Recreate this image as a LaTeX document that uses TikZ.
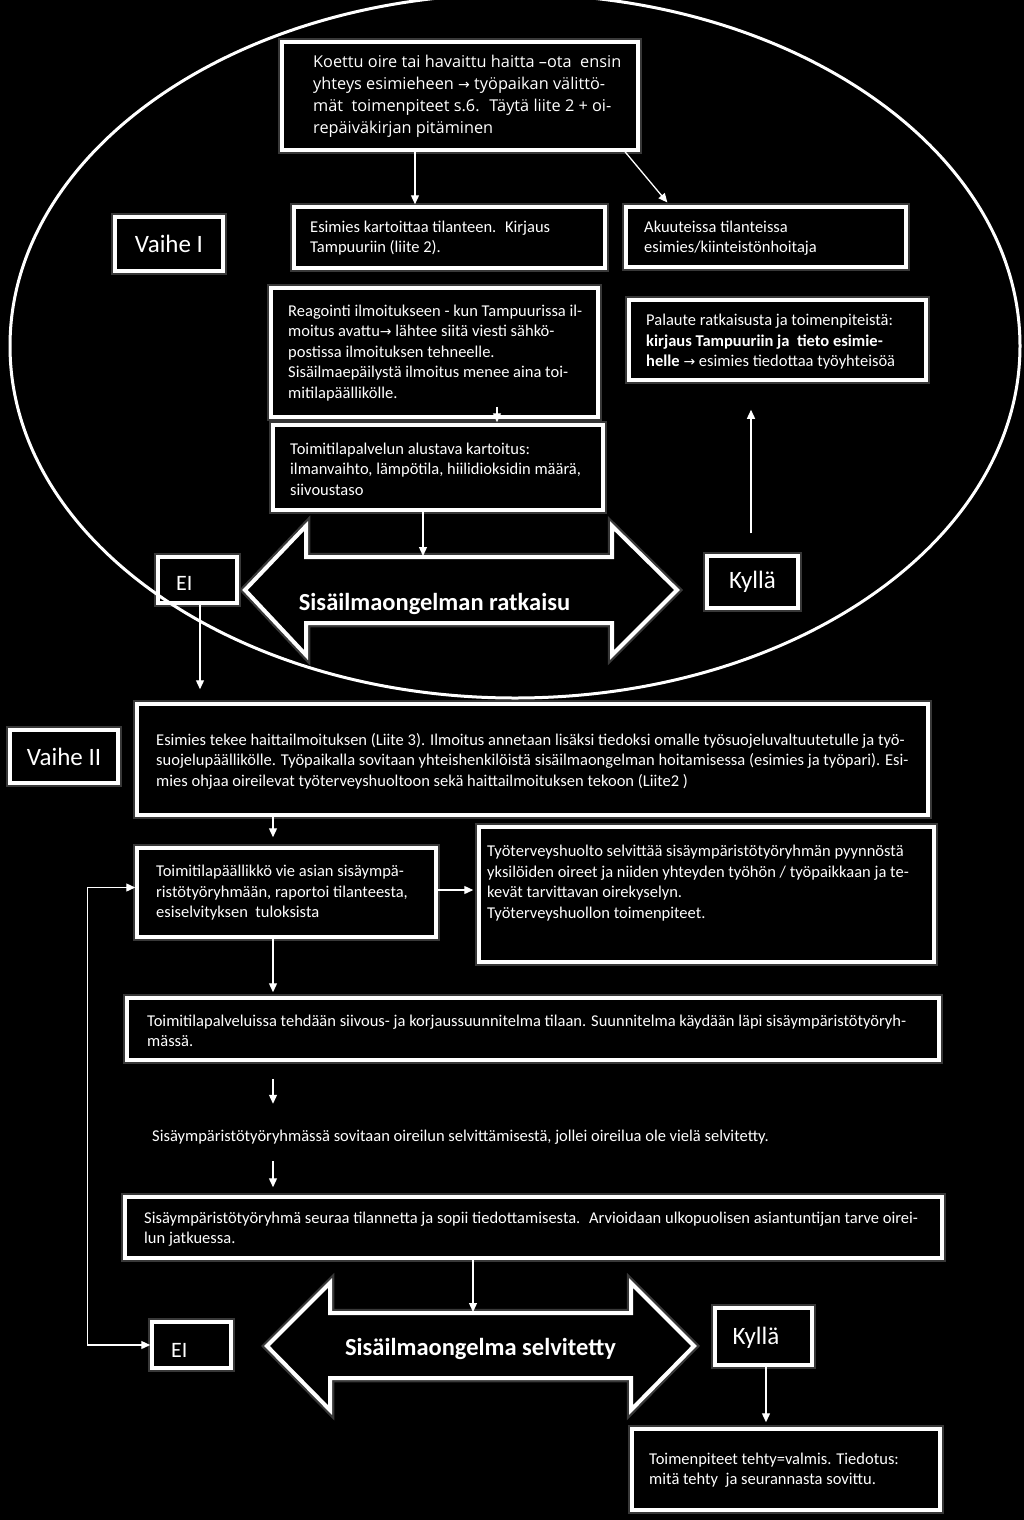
\documentclass[tikz,border=0pt]{standalone}
\usepackage{fontspec}
\setmainfont{Carlito}
\newfontfamily\osans{Open Sans}
\newfontfamily\sym{DejaVu Sans}
\usetikzlibrary{arrows.meta,calc}
\newcommand\arw{{\sym\fontsize{14}{20}\selectfont →}}
\begin{document}
\begin{tikzpicture}[x=1pt,y=-1pt,
  box/.style={draw=white, line width=3.5pt, fill=black, inner sep=0pt,
    preaction={draw=white!22!black, line width=8pt}},
  txt/.style={text=white, inner sep=0pt, align=left, font=\fontsize{16.5}{20.5}\selectfont},
  otxt/.style={text=white, inner sep=0pt, align=left, font=\osans\fontsize{16.3}{22}\selectfont},
  lbl/.style={text=white, font=\fontsize{25}{29}\selectfont},
  bigtxt/.style={text=white, inner sep=0pt, font=\bfseries\fontsize{24.5}{28}\selectfont},
  arr/.style={draw=white, line width=1.3pt, shorten >=1pt, -{Triangle[length=9pt,width=8pt]}},
  arrboth/.style={draw=white, line width=1.3pt, {Triangle[length=9pt,width=8pt]}-{Triangle[length=9pt,width=8pt]}},
  bigarr/.style={draw=white, line width=4pt, line join=miter, fill=black,
    preaction={draw=white!22!black, line width=8.5pt}}
]
\fill[black] (0,0) rectangle (1024,1520);
\useasboundingbox (0,0) rectangle (1024,1520);

% ---------- Vaihe I ----------
\node[box, minimum width=356pt, minimum height=108pt] (T) at (460,96) {};
\node[otxt, anchor=west] (Tt) at (313,96) {Koettu oire tai havaittu haitta –ota~ ensin\\yhteys esimieheen \arw{} työpaikan välittö-\\mät~ toimenpiteet s.6.~ Täytä liite 2 + oi-\\repäiväkirjan pitäminen};

\node[box, lbl, minimum width=108pt, minimum height=54pt] (VI) at (169,244) {Vaihe I};

\node[box, minimum width=311pt, minimum height=61pt] (E1) at (449.5,237.5) {};
\node[txt, anchor=west] (E1t) at (310,238) {Esimies kartoittaa tilanteen.~ Kirjaus\\Tampuuriin (liite 2).};

\node[box, minimum width=280pt, minimum height=60pt] (A) at (766,237) {};
\node[txt, anchor=west] (At) at (644,238) {Akuuteissa tilanteissa\\esimies/kiinteistönhoitaja};

\node[box, minimum width=327pt, minimum height=129pt] (R) at (434.5,352.5) {};
\node[txt, anchor=west] (Rt) at (288,353) {Reagointi ilmoitukseen - kun Tampuurissa il-\\moitus avattu\arw{} lähtee siitä viesti sähkö-\\postissa ilmoituksen tehneelle.\\Sisäilmaepäilystä ilmoitus menee aina toi-\\mitilapäällikölle.};

\node[box, minimum width=330pt, minimum height=85pt] (K) at (438,467.5) {};
\node[txt, anchor=west] (Kt) at (290,469) {Toimitilapalvelun alustava kartoitus:\\ilmanvaihto, lämpötila, hiilidioksidin määrä,\\siivoustaso};

\node[box, minimum width=297pt, minimum height=80pt] (P) at (777.5,340) {};
\node[txt, anchor=west] (Pt) at (646,342) {Palaute ratkaisusta ja toimenpiteistä:\\\textbf{kirjaus Tampuuriin ja~ tieto esimie-}\\\textbf{helle} \arw{} esimies tiedottaa työyhteisöä};

% big arrow 1
\draw[bigarr] (245,590) -- (306,526) -- (306,557) -- (612,557) -- (612,526) -- (677,590)
  -- (612,655) -- (612,623) -- (306,623) -- (306,655) -- cycle;
\coordinate (ba1top) at (423,557);
\node[bigtxt, anchor=base] (BA1) at (434.5,610) {Sisäilmaongelman ratkaisu};

\node[box, minimum width=79pt, minimum height=46pt] (Ei1) at (197.5,580) {};
\node[lbl, inner sep=0pt, anchor=west, font=\fontsize{22}{26}\selectfont] (Ei1t) at (176,583) {EI};

\node[box, lbl, minimum width=91pt, minimum height=52pt] (Ky1) at (752.5,582) {Kyllä};

% ---------- Vaihe II ----------
\node[box, lbl, minimum width=108pt, minimum height=53pt] (VII) at (64,756.5) {Vaihe II};

\node[box, minimum width=791pt, minimum height=111pt] (M) at (532.5,759.5) {};
\node[txt, anchor=west] (Mt) at (156,761) {Esimies tekee haittailmoituksen (Liite 3). Ilmoitus annetaan lisäksi tiedoksi omalle työsuojeluvaltuutetulle ja työ-\\suojelupäällikölle. Työpaikalla sovitaan yhteishenkilöistä sisäilmaongelman hoitamisessa (esimies ja työpari). Esi-\\mies ohjaa oireilevat työterveyshuoltoon sekä haittailmoituksen tekoon (Liite2 )};

\node[box, minimum width=299pt, minimum height=89pt] (TP) at (286.5,892.5) {};
\node[txt, anchor=west] (TPt) at (156,893) {Toimitilapäällikkö vie asian sisäympä-\\ristötyöryhmään, raportoi tilanteesta,\\esiselvityksen~ tuloksista};

\node[box, minimum width=455pt, minimum height=135pt] (TH) at (706.5,894.5) {};
\node[txt, anchor=west] (THt) at (487,883) {Työterveyshuolto selvittää sisäympäristötyöryhmän pyynnöstä\\yksilöiden oireet ja niiden yhteyden työhön / työpaikkaan ja te-\\kevät tarvittavan oirekyselyn.\\Työterveyshuollon toimenpiteet.};

\node[box, minimum width=812pt, minimum height=62pt] (S) at (533,1029) {};
\node[txt, anchor=west] (St) at (147,1031) {Toimitilapalveluissa tehdään siivous- ja korjaussuunnitelma tilaan. Suunnitelma käydään läpi sisäympäristötyöryh-\\mässä.};

\node[txt, anchor=west] (FT) at (152,1137) {Sisäympäristötyöryhmässä sovitaan oireilun selvittämisestä, jollei oireilua ole vielä selvitetty.};

\node[box, minimum width=817pt, minimum height=61pt] (F) at (533.5,1227.5) {};
\node[txt, anchor=west] (Ft) at (144,1229) {Sisäympäristötyöryhmä seuraa tilannetta ja sopii tiedottamisesta.~ Arvioidaan ulkopuolisen asiantuntijan tarve oirei-\\lun jatkuessa.};

% big arrow 2
\draw[bigarr] (267,1346) -- (330,1283) -- (330,1313) -- (631,1313) -- (631,1283) -- (694,1346)
  -- (631,1410) -- (631,1378) -- (330,1378) -- (330,1410) -- cycle;
\coordinate (ba2top) at (473,1313);
\node[bigtxt, anchor=base] (BA2) at (480.5,1355) {Sisäilmaongelma selvitetty};

\node[box, minimum width=79pt, minimum height=46pt] (Ei2) at (191.5,1345) {};
\node[lbl, inner sep=0pt, anchor=west, font=\fontsize{22}{26}\selectfont] (Ei2t) at (171,1350) {EI};

\node[box, minimum width=97pt, minimum height=57pt] (Ky2) at (763.5,1336.5) {};
\node[lbl, inner sep=0pt] (Ky2t) at (756,1338) {Kyllä};

\node[box, minimum width=308pt, minimum height=81pt] (V) at (786,1469.5) {};
\node[txt, anchor=west] (Vt) at (649,1470) {Toimenpiteet tehty=valmis. Tiedotus:\\mitä tehty~ ja seurannasta sovittu.};

% ---------- ellipse ----------
\draw[white, line width=3pt] (515,346) ellipse [x radius=505pt, y radius=352pt];

% ---------- connectors ----------
\draw[arr] ([xshift=-45pt]T.south) -- ([xshift=-34.5pt]E1.north);
\draw[arr] ([xshift=165pt]T.south) -- ([xshift=-98pt,yshift=2pt]A.north);
\draw[arr] ([xshift=62.5pt,yshift=12pt]R.south) -- ([xshift=59pt]K.north);
\draw[arr] ([xshift=-15pt]K.south) -- (ba1top);
\draw[arr] ([xshift=-1.5pt,yshift=21pt]Ky1.north) -- ([xshift=-26.5pt,yshift=-27pt]P.south);
\draw[arr] ([xshift=2.5pt]Ei1.south) -- ([xshift=-332.5pt,yshift=12pt]M.north);
\draw[arr] ([xshift=-259.5pt]M.south) -- ([xshift=-13.5pt,yshift=8pt]TP.north);
\draw[arr] ([yshift=2.5pt]TP.east) -- ([xshift=-3pt,yshift=4.5pt]TH.west);
\draw[arr] ([xshift=-13.5pt]TP.south) -- ([xshift=-260pt,yshift=3pt]S.north);
\draw[arr] ([xshift=-260pt,yshift=-17pt]S.south) -- ([xshift=-260pt,yshift=-43pt]S.south);
\draw[arr] ([xshift=-260.5pt,yshift=34pt]F.north) -- ([xshift=-260.5pt,yshift=7pt]F.north);
\draw[arr] ([xshift=-60.5pt]F.south) -- (ba2top);
\draw[arr] ([xshift=2.5pt]Ky2.south) -- ([xshift=-20pt,yshift=4pt]V.north);
\draw[arrboth] (Ei2.west) -- ++(-63,0) |- ([yshift=5pt]TP.west);
\end{tikzpicture}
\end{document}
